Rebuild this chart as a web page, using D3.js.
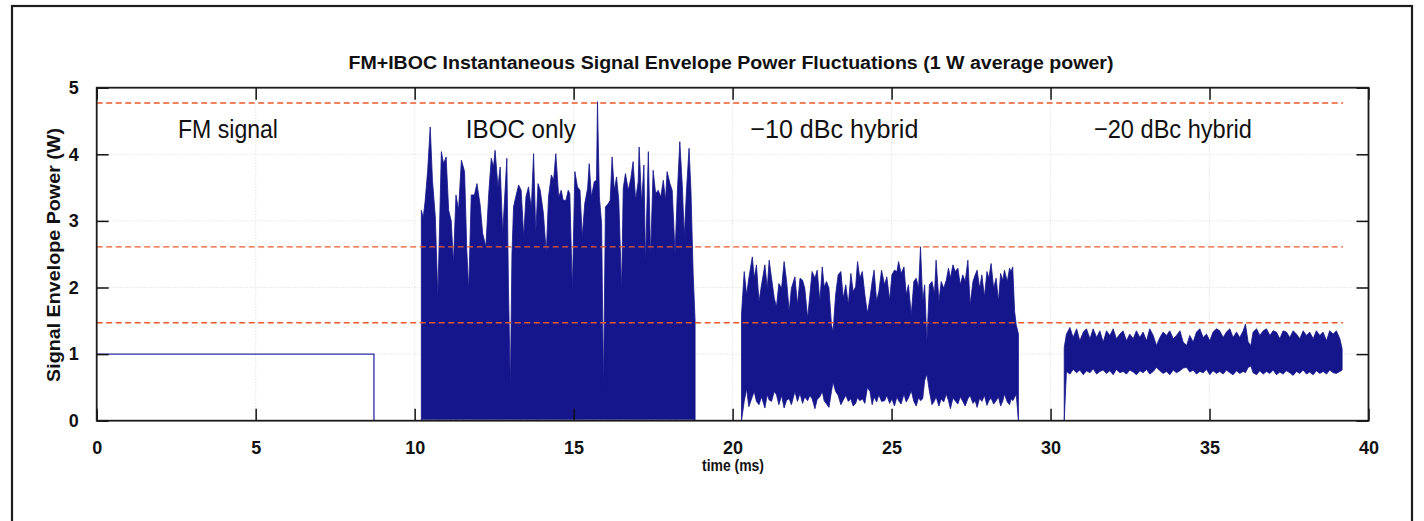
<!DOCTYPE html>
<html><head><meta charset="utf-8">
<script src="https://cdn.jsdelivr.net/npm/d3@7"></script>
<style>body{margin:0;background:#fff}svg{display:block}</style>
</head><body><svg id="c" width="1424" height="521"></svg>
<script>
// ---------------- data ----------------
const TITLE = "FM+IBOC Instantaneous Signal Envelope Power Fluctuations (1 W average power)";
const X_LABEL = "time (ms)";
const Y_LABEL = "Signal Envelope Power (W)";
const X_TICKS = [0, 5, 10, 15, 20, 25, 30, 35, 40];
const Y_TICKS = [0, 1, 2, 3, 4, 5];
const THRESHOLDS = [4.77, 2.61, 1.47];
const THRESHOLD_SPAN = [0, 39.2];
const SEGMENT_LABELS = ["FM signal", "IBOC only", "\u221210 dBc hybrid", "\u221220 dBc hybrid"];
const SEGMENT_LABEL_T = [4.13, 13.34, 23.2, 33.85];

const FM_T = [0, 8.72, 8.72];
const FM_V = [1, 1, 0];

const IBOC_T = [10.21,10.27,10.33,10.41,10.49,10.56,10.65,10.73,10.84,10.91,10.99,11.07,11.15,11.22,11.30,11.38,11.47,11.57,11.64,11.70,11.78,11.88,11.96,12.06,12.14,12.24,12.33,12.41,12.48,12.53,12.62,12.69,12.77,12.83,12.90,12.95,13.01,13.06,13.11,13.18,13.27,13.35,13.43,13.50,13.58,13.67,13.74,13.81,13.88,13.95,14.05,14.14,14.21,14.30,14.37,14.44,14.53,14.61,14.67,14.76,14.83,14.88,14.96,15.04,15.12,15.20,15.27,15.35,15.44,15.49,15.56,15.65,15.72,15.75,15.81,15.88,15.94,16.00,16.09,16.15,16.21,16.28,16.35,16.42,16.51,16.56,16.63,16.72,16.80,16.87,16.95,17.03,17.06,17.14,17.21,17.26,17.35,17.42,17.50,17.58,17.66,17.74,17.82,17.89,17.94,18.03,18.10,18.19,18.26,18.34,18.42,18.48,18.55,18.63,18.69,18.76,18.82];
const IBOC_TOP = [3.16,3.05,3.30,3.76,4.41,3.61,3.06,1.86,4.04,3.86,3.96,3.16,3.00,2.36,3.39,3.16,3.91,3.74,2.56,1.96,3.39,3.39,3.56,3.24,2.81,2.61,3.41,3.94,3.81,4.06,3.51,3.81,2.81,3.34,3.94,2.00,0.50,2.50,3.21,3.36,3.54,3.46,2.76,3.36,3.51,3.19,4.01,2.81,3.56,3.46,3.11,2.51,3.36,3.69,3.61,4.01,3.36,3.46,3.31,3.31,3.46,3.41,1.96,3.74,3.51,3.46,2.76,3.26,3.49,3.86,3.36,3.59,3.61,4.79,3.36,2.96,0.46,3.21,3.26,3.31,3.96,3.46,3.66,3.31,1.96,3.49,3.71,3.46,3.64,3.89,3.31,3.59,4.11,3.26,3.84,2.36,4.04,2.46,3.76,3.41,3.46,3.36,3.61,3.31,3.74,3.56,3.46,2.51,3.41,4.19,3.51,2.76,3.46,4.09,3.46,2.20,1.50];
const IBOC_FLOOR = 0.02;

const H10_T = [20.28,20.365,20.44,20.51,20.62,20.68,20.75,20.83,20.91,21.015,21.09,21.15,21.225,21.31,21.38,21.455,21.54,21.62,21.70,21.78,21.85,21.96,22.04,22.12,22.20,22.27,22.36,22.43,22.50,22.59,22.66,22.745,22.82,22.88,22.955,23.03,23.11,23.16,23.24,23.32,23.405,23.48,23.56,23.64,23.72,23.79,23.87,23.93,24.00,24.08,24.16,24.24,24.32,24.39,24.45,24.53,24.60,24.685,24.78,24.85,24.94,25.01,25.09,25.17,25.22,25.30,25.39,25.46,25.53,25.62,25.70,25.775,25.85,25.91,25.98,26.04,26.11,26.19,26.27,26.35,26.40,26.49,26.56,26.64,26.72,26.79,26.85,26.93,27.00,27.085,27.16,27.24,27.315,27.40,27.47,27.56,27.63,27.69,27.77,27.84,27.92,28.00,28.06,28.13,28.21,28.29,28.36,28.43,28.50,28.55,28.64,28.71,28.76,28.81,28.87,28.92,28.99];
const H10_TOP = [1.60,2.24,1.89,2.14,2.46,2.14,2.34,1.79,2.04,2.34,1.99,2.41,2.14,1.84,1.71,2.06,1.99,2.39,2.09,1.64,1.99,2.16,1.74,2.14,2.11,1.99,1.54,1.89,2.24,2.14,2.26,1.79,2.31,2.01,2.09,1.99,1.44,1.34,1.89,2.19,2.24,1.84,2.04,1.74,2.21,1.94,2.01,2.39,2.14,2.24,1.89,1.61,1.84,2.09,2.26,1.79,1.94,2.26,2.04,2.16,1.81,2.19,2.26,2.24,2.39,2.21,2.31,1.89,2.04,1.59,2.09,2.14,1.99,2.61,1.79,2.04,1.19,2.04,2.09,1.91,2.41,1.79,2.09,1.99,2.11,2.29,2.14,2.34,2.24,2.29,2.04,2.19,2.09,2.41,1.74,2.09,2.19,2.26,1.99,2.19,1.86,2.24,2.14,2.36,1.99,2.14,1.79,2.21,2.11,2.26,2.09,2.29,2.24,2.31,1.64,1.44,1.30];
const H10_BOTTOM = [0.00,0.29,0.48,0.21,0.36,0.44,0.29,0.24,0.36,0.19,0.39,0.31,0.29,0.44,0.39,0.24,0.38,0.19,0.31,0.33,0.24,0.44,0.29,0.41,0.26,0.36,0.30,0.38,0.33,0.18,0.32,0.36,0.44,0.30,0.25,0.20,0.44,0.58,0.44,0.38,0.24,0.31,0.38,0.29,0.33,0.22,0.26,0.35,0.30,0.33,0.26,0.50,0.44,0.24,0.36,0.28,0.39,0.29,0.30,0.38,0.26,0.33,0.22,0.36,0.30,0.25,0.40,0.28,0.34,0.45,0.29,0.22,0.35,0.30,0.33,0.60,0.70,0.44,0.24,0.30,0.36,0.22,0.33,0.28,0.40,0.30,0.18,0.34,0.30,0.25,0.36,0.29,0.22,0.33,0.38,0.26,0.30,0.20,0.34,0.29,0.38,0.23,0.30,0.34,0.25,0.30,0.36,0.22,0.30,0.40,0.28,0.24,0.33,0.30,0.35,0.40,0.00];

const H20_T = [30.43,30.50,30.61,30.71,30.82,30.92,31.03,31.13,31.24,31.34,31.45,31.55,31.655,31.76,31.865,31.97,32.07,32.18,32.28,32.39,32.49,32.60,32.70,32.81,32.91,33.02,33.12,33.23,33.33,33.44,33.54,33.65,33.75,33.86,33.96,34.07,34.17,34.28,34.38,34.485,34.59,34.695,34.80,34.905,35.01,35.11,35.22,35.32,35.43,35.53,35.64,35.74,35.85,35.95,36.06,36.13,36.215,36.30,36.37,36.48,36.58,36.69,36.79,36.90,37.00,37.105,37.21,37.315,37.42,37.525,37.63,37.735,37.84,37.945,38.05,38.15,38.26,38.36,38.47,38.57,38.68,38.78,38.89,38.99,39.10,39.17];
const H20_TOP = [1.10,1.30,1.40,1.25,1.38,1.20,1.33,1.38,1.23,1.38,1.25,1.35,1.18,1.35,1.28,1.38,1.23,1.30,1.35,1.20,1.30,1.23,1.35,1.25,1.33,1.20,1.38,1.28,1.13,1.25,1.33,1.28,1.35,1.23,1.28,1.35,1.18,1.13,1.28,1.18,1.33,1.38,1.25,1.30,1.20,1.33,1.38,1.35,1.25,1.33,1.38,1.25,1.33,1.25,1.35,1.45,1.18,1.13,1.33,1.38,1.28,1.35,1.38,1.28,1.35,1.33,1.23,1.35,1.33,1.25,1.35,1.30,1.23,1.35,1.28,1.33,1.23,1.35,1.28,1.33,1.20,1.35,1.30,1.35,1.23,1.08];
const H20_BOTTOM = [0.00,0.74,0.70,0.77,0.72,0.76,0.69,0.75,0.72,0.78,0.70,0.74,0.76,0.71,0.75,0.69,0.77,0.72,0.74,0.70,0.76,0.73,0.69,0.75,0.72,0.77,0.70,0.74,0.80,0.75,0.71,0.74,0.69,0.76,0.72,0.75,0.79,0.80,0.73,0.76,0.70,0.74,0.72,0.77,0.69,0.75,0.71,0.74,0.70,0.76,0.72,0.69,0.75,0.71,0.74,0.72,0.80,0.82,0.72,0.69,0.75,0.70,0.74,0.71,0.76,0.69,0.73,0.70,0.75,0.72,0.68,0.74,0.71,0.76,0.70,0.73,0.69,0.75,0.71,0.74,0.70,0.76,0.72,0.71,0.74,0.76];

// ---------------- drawing ----------------
const svg = d3.select("#c");
const M = {left: 96.7, right: 1368.5, top: 87.7, bottom: 420.7};
const x = d3.scaleLinear().domain([0, 40]).range([M.left, M.right]);
const y = d3.scaleLinear().domain([0, 5]).range([M.bottom, M.top]);
const NAVY = "#15158c";
const FONT = "Liberation Sans, Arial, Helvetica, sans-serif";

// outer frame
svg.append("rect").attr("x", 12).attr("y", 6).attr("width", 1400).attr("height", 540)
  .attr("fill", "#fff").attr("stroke", "#1e1e1e").attr("stroke-width", 2.2);

// grid
const g = svg.append("g");
g.selectAll(".gx").data(X_TICKS.slice(1, -1)).join("line")
  .attr("x1", d => x(d)).attr("x2", d => x(d)).attr("y1", M.top).attr("y2", M.bottom)
  .attr("stroke", "#cfcfcf").attr("stroke-width", 0.8).attr("stroke-dasharray", "1,2");
g.selectAll(".gy").data(Y_TICKS.slice(1, -1)).join("line")
  .attr("y1", d => y(d)).attr("y2", d => y(d)).attr("x1", M.left).attr("x2", M.right)
  .attr("stroke", "#cfcfcf").attr("stroke-width", 0.8).attr("stroke-dasharray", "1,2");

// FM trace
svg.append("path")
  .attr("d", d3.line().x((d, i) => x(FM_T[i])).y(d => y(d))(FM_V))
  .attr("fill", "none").attr("stroke", "#2c2ca8").attr("stroke-width", 1.3);

// noisy traces as envelopes
function envelope(T, top, bottom) {
  const a = d3.area().x((d, i) => x(T[i])).y1(d => y(d)).y0((d, i) => y(bottom(i)));
  svg.append("path").attr("d", a(top))
    .attr("fill", NAVY).attr("stroke", NAVY).attr("stroke-width", 0.8).attr("stroke-linejoin", "miter");
}
envelope(IBOC_T, IBOC_TOP, i => (i === 0 || i === IBOC_T.length - 1) ? 0 : IBOC_FLOOR);
envelope(H10_T, H10_TOP, i => H10_BOTTOM[i]);
envelope(H20_T, H20_TOP, i => H20_BOTTOM[i]);

// thresholds
svg.selectAll(".thr").data(THRESHOLDS).join("line")
  .attr("x1", x(THRESHOLD_SPAN[0])).attr("x2", x(THRESHOLD_SPAN[1]))
  .attr("y1", d => y(d)).attr("y2", d => y(d))
  .attr("stroke", "#ea5a2a").attr("stroke-width", 1.4).attr("stroke-dasharray", "6,3.5");

// axes box + ticks (inside, all four sides)
const TL = 12;
const axB = d3.axisBottom(x).tickValues(X_TICKS).tickSize(-TL).tickPadding(TL + 9).tickFormat(d3.format("d"));
const axT = d3.axisTop(x).tickValues(X_TICKS).tickSize(-TL).tickFormat("");
const axL = d3.axisLeft(y).tickValues(Y_TICKS).tickSize(-TL).tickPadding(TL + 6).tickFormat(d3.format("d"));
const axR = d3.axisRight(y).tickValues(Y_TICKS).tickSize(-TL).tickFormat("");
function styleAx(sel) {
  sel.select(".domain").remove();
  sel.selectAll("line").attr("stroke", "#111").attr("stroke-width", 1.5);
  sel.selectAll("text").attr("fill", "#111").attr("font-family", FONT)
    .attr("font-weight", "bold").attr("font-size", 18);
}
svg.append("g").attr("transform", `translate(0,${M.bottom})`).call(axB).call(styleAx);
svg.append("g").attr("transform", `translate(0,${M.top})`).call(axT).call(styleAx);
svg.append("g").attr("transform", `translate(${M.left},0)`).call(axL).call(styleAx);
svg.append("g").attr("transform", `translate(${M.right},0)`).call(axR).call(styleAx);
svg.append("rect").attr("x", M.left).attr("y", M.top).attr("width", M.right - M.left).attr("height", M.bottom - M.top)
  .attr("fill", "none").attr("stroke", "#1a1a1a").attr("stroke-width", 1.8);

// title & axis labels
svg.append("text").text(TITLE).attr("x", 731).attr("y", 69).attr("text-anchor", "middle")
  .attr("font-family", FONT).attr("font-weight", "bold").attr("font-size", 17.5)
  .attr("fill", "#111").attr("textLength", 765).attr("lengthAdjust", "spacingAndGlyphs");
svg.append("text").text(X_LABEL).attr("x", 733).attr("y", 471).attr("text-anchor", "middle")
  .attr("font-family", FONT).attr("font-weight", "bold").attr("font-size", 17)
  .attr("fill", "#111").attr("textLength", 62).attr("lengthAdjust", "spacingAndGlyphs");
svg.append("text").text(Y_LABEL).attr("transform", "translate(60,255) rotate(-90)").attr("text-anchor", "middle")
  .attr("font-family", FONT).attr("font-size", 17.5).attr("font-weight", "bold")
  .attr("fill", "#111").attr("textLength", 254).attr("lengthAdjust", "spacingAndGlyphs");

// segment labels
const LABEL_W = [100, 110, 168, 158];
svg.selectAll(".seg").data(SEGMENT_LABELS).join("text")
  .text(d => d).attr("x", (d, i) => x(SEGMENT_LABEL_T[i]) - LABEL_W[i] / 2).attr("y", y(4.23) - 1)
  .attr("font-family", FONT).attr("font-size", 26).attr("fill", "#111")
  .attr("textLength", (d, i) => LABEL_W[i]).attr("lengthAdjust", "spacingAndGlyphs");
</script></body></html>
